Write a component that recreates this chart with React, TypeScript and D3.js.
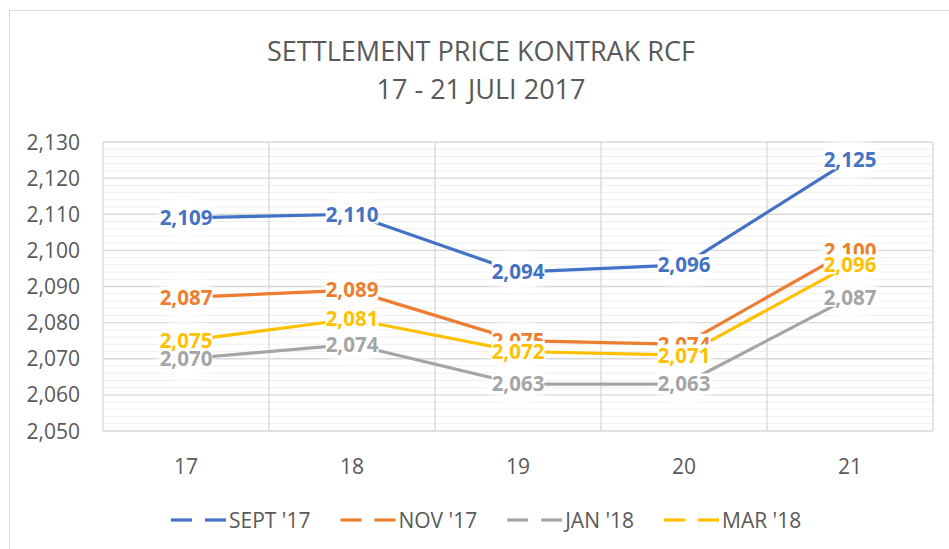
import React, { useEffect, useRef } from "react";
import * as d3 from "d3";

const categories = ["17", "18", "19", "20", "21"];
const seriesNames = ["SEPT '17", "NOV '17", "JAN '18", "MAR '18"];
const septValues = [2109, 2110, 2094, 2096, 2125];
const novValues = [2087, 2089, 2075, 2074, 2100];
const janValues = [2070, 2074, 2063, 2063, 2087];
const marValues = [2075, 2081, 2072, 2071, 2096];
const seriesColors = ["#4472C4", "#ED7D31", "#A5A5A5", "#FFC000"];
const yTicks = [2050, 2060, 2070, 2080, 2090, 2100, 2110, 2120, 2130];
const titleLines = ["SETTLEMENT PRICE KONTRAK RCF", "17 - 21 JULI 2017"];

const W = 949;
const H = 549;
const FONT = "'Open Sans', 'DejaVu Sans', sans-serif";

export default function App() {
  const ref = useRef<SVGSVGElement | null>(null);

  useEffect(() => {
    const svg = d3.select(ref.current);
    svg.selectAll("*").remove();

    const left = 103, right = 933, top = 142, bottom = 431;
    const allSeries = [septValues, novValues, janValues, marValues];

    const band = d3.scaleBand<string>().domain(categories).range([left, right]).paddingInner(0).paddingOuter(0);
    const x = (c: string) => (band(c) as number) + band.bandwidth() / 2;
    const y = d3.scaleLinear().domain([2050, 2130]).range([bottom, top]);

    // chart border
    svg.append("rect").attr("x", 9.5).attr("y", 10.5).attr("width", 1000).attr("height", 1000)
      .attr("fill", "white").attr("stroke", "#D9D9D9").attr("stroke-width", 1);

    const defs = svg.append("defs");
    const grad = defs.append("radialGradient").attr("id", "glow");
    grad.append("stop").attr("offset", "0%").attr("stop-color", "white").attr("stop-opacity", 1);
    grad.append("stop").attr("offset", "60%").attr("stop-color", "white").attr("stop-opacity", 0.9);
    grad.append("stop").attr("offset", "100%").attr("stop-color", "white").attr("stop-opacity", 0);

    // title
    titleLines.forEach((t, i) => {
      svg.append("text").attr("x", 481).attr("y", i === 0 ? 61 : 99)
        .attr("text-anchor", "middle").attr("font-family", FONT).attr("font-size", 28)
        .attr("fill", "#595959").attr("textLength", i === 0 ? 428 : 209)
        .attr("lengthAdjust", "spacingAndGlyphs").text(t);
    });

    // minor gridlines
    const minor = d3.range(2050, 2131, 2).filter((v) => v % 10 !== 0);
    svg.append("g").selectAll("line").data(minor).join("line")
      .attr("x1", left).attr("x2", right).attr("y1", (d) => y(d)).attr("y2", (d) => y(d))
      .attr("stroke", "#EFEFEF").attr("stroke-width", 1);
    // major gridlines
    svg.append("g").selectAll("line").data(yTicks).join("line")
      .attr("x1", left).attr("x2", right).attr("y1", (d) => y(d)).attr("y2", (d) => y(d))
      .attr("stroke", "#D9D9D9").attr("stroke-width", 1.3);
    // vertical gridlines
    const vx = categories.map((c) => band(c) as number).concat([right]);
    svg.append("g").selectAll("line").data(vx).join("line")
      .attr("x1", (d) => d).attr("x2", (d) => d).attr("y1", top).attr("y2", bottom)
      .attr("stroke", "#D9D9D9").attr("stroke-width", 1.3);

    // y tick labels
    svg.append("g").selectAll("text").data(yTicks).join("text")
      .attr("x", 80).attr("y", (d) => y(d)).attr("dy", "0.36em")
      .attr("text-anchor", "end").attr("font-family", FONT).attr("font-size", 21)
      .attr("fill", "#595959").text((d) => d3.format(",")(d));

    // x labels
    svg.append("g").selectAll("text").data(categories).join("text")
      .attr("x", (d) => x(d)).attr("y", 466).attr("dy", "0.36em")
      .attr("text-anchor", "middle").attr("font-family", FONT).attr("font-size", 21)
      .attr("fill", "#595959").text((d) => d);

    // glows
    allSeries.forEach((vals) => {
      svg.append("g").selectAll("ellipse").data(vals).join("ellipse")
        .attr("cx", (_d, i) => x(categories[i])).attr("cy", (d) => y(d))
        .attr("rx", 34).attr("ry", 26).attr("fill", "url(#glow)");
    });

    // lines
    const line = d3.line<number>().x((_d, i) => x(categories[i])).y((d) => y(d));
    allSeries.forEach((vals, si) => {
      svg.append("path").attr("d", line(vals) as string).attr("fill", "none")
        .attr("stroke", seriesColors[si]).attr("stroke-width", 3.2)
        .attr("stroke-linecap", "round").attr("stroke-linejoin", "round");
    });

    // labels
    allSeries.forEach((vals, si) => {
      vals.forEach((v, i) => {
        const g = svg.append("g");
        const rect = g.append("rect").attr("fill", "white");
        const t = g.append("text").attr("x", x(categories[i])).attr("y", y(v)).attr("dy", "0.36em")
          .attr("text-anchor", "middle").attr("font-family", FONT).attr("font-size", 20.5)
          .attr("font-weight", "bold").attr("fill", seriesColors[si]).text(d3.format(",")(v));
        const bb = (t.node() as SVGTextElement).getBBox();
        rect.attr("x", bb.x).attr("y", bb.y + 4).attr("width", bb.width).attr("height", bb.height - 8);
      });
    });

    // legend
    let lx = 171;
    const ly = 520;
    seriesNames.forEach((name, si) => {
      const g = svg.append("g");
      g.append("line").attr("x1", lx).attr("x2", lx + 21).attr("y1", ly).attr("y2", ly)
        .attr("stroke", seriesColors[si]).attr("stroke-width", 3.2);
      g.append("line").attr("x1", lx + 34).attr("x2", lx + 55).attr("y1", ly).attr("y2", ly)
        .attr("stroke", seriesColors[si]).attr("stroke-width", 3.2);
      const t = g.append("text").attr("x", lx + 58).attr("y", ly).attr("dy", "0.36em")
        .attr("font-family", FONT).attr("font-size", 21).attr("fill", "#595959").text(name);
      const w = (t.node() as SVGTextElement).getComputedTextLength();
      lx = lx + 58 + w + 30;
    });
  }, []);

  return (
    <svg ref={ref} width={W} height={H} style={{ position: "absolute", left: 0, top: 0, display: "block" }} />
  );
}
